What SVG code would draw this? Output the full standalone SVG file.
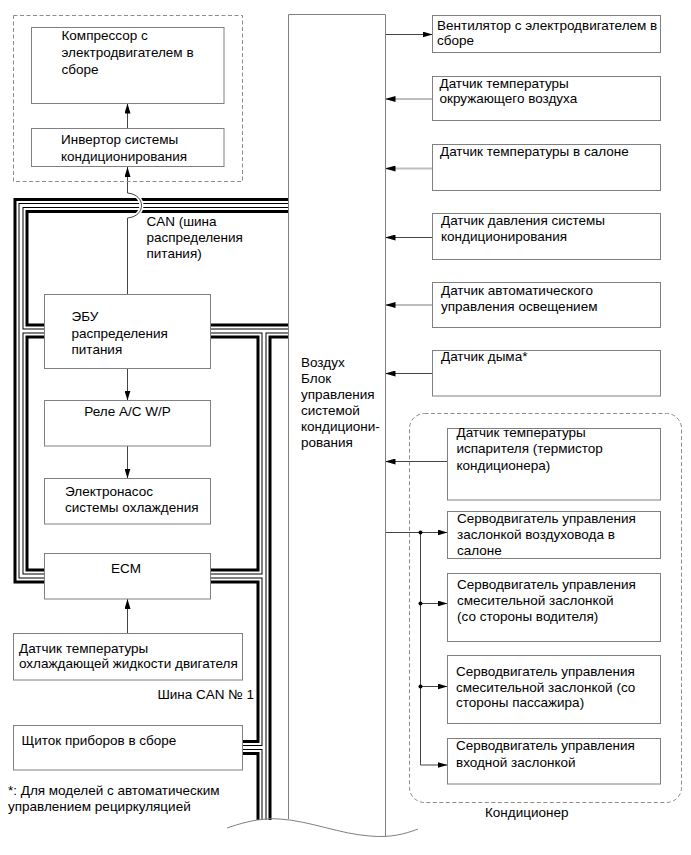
<svg xmlns="http://www.w3.org/2000/svg" xmlns:xlink="http://www.w3.org/1999/xlink" width="691" height="855" viewBox="0 0 691 855">
<style>
.box{fill:#fff;stroke:#808080;stroke-width:1}
.t{font-family:"Liberation Sans",Arial,sans-serif;font-size:13.5px;fill:#000}
.ln{fill:none;stroke:#444;stroke-width:1}
.lg{fill:none;stroke:#bdbdbd;stroke-width:2}
.dash{fill:none;stroke:#8c8c8c;stroke-width:1;stroke-dasharray:4 2.5}
.dot{fill:#000}
</style>
<defs>
<marker id="ah" viewBox="0 0 10 6" refX="10" refY="3" markerWidth="10" markerHeight="6" orient="auto" markerUnits="userSpaceOnUse">
<path d="M0,0 L10,3 L0,6 Z" fill="#000"/>
</marker>
<path id="bus" d="M288.5,205.5 H21 V576 H50 M21,331 H50 M205,331 H288.5 M264,331 V820 M205,576 H264 M238,747.5 H264"/>
</defs>
<rect width="691" height="855" fill="#fff"/>

<g id="connectors">
<g id="can-bus" fill="none" stroke-linejoin="miter" stroke-linecap="butt">
<use xlink:href="#bus" stroke="#000" stroke-width="15"/>
<use xlink:href="#bus" stroke="#fff" stroke-width="9"/>
<use xlink:href="#bus" stroke="#000" stroke-width="5"/>
<use xlink:href="#bus" stroke="#fff" stroke-width="3"/>
</g>
<path d="M127.5,218 C137.5,217 141.5,211 141.5,205.5 C141.5,200 137.5,194 127.5,193" fill="none" stroke="#fff" stroke-width="4"/>
<path class="ln" d="M127.5,294.5 V218 C137.5,217 141.5,211 141.5,205.5 C141.5,200 137.5,194 127.5,193 V167" marker-end="url(#ah)"/>
<line class="ln" x1="127.5" y1="128.5" x2="127.5" y2="103.5" marker-end="url(#ah)"/>
<line class="ln" x1="127.5" y1="368.5" x2="127.5" y2="400.5" marker-end="url(#ah)"/>
<line class="ln" x1="127.5" y1="446" x2="127.5" y2="478.5" marker-end="url(#ah)"/>
<line class="ln" x1="127.5" y1="633.5" x2="127.5" y2="599" marker-end="url(#ah)"/>
<line class="ln" x1="385.5" y1="34.5" x2="432.5" y2="34.5" marker-end="url(#ah)"/>
<line class="lg" x1="432.5" y1="99" x2="385.5" y2="99" marker-end="url(#ah)"/>
<line class="lg" x1="432.5" y1="168.5" x2="385.5" y2="168.5" marker-end="url(#ah)"/>
<line class="ln" x1="432.5" y1="237.5" x2="385.5" y2="237.5" marker-end="url(#ah)"/>
<line class="lg" x1="432.5" y1="305" x2="385.5" y2="305" marker-end="url(#ah)"/>
<line class="ln" x1="432.5" y1="373.5" x2="385.5" y2="373.5" marker-end="url(#ah)"/>
<line class="ln" x1="447.5" y1="461.5" x2="385.5" y2="461.5" marker-end="url(#ah)"/>
<line class="ln" x1="385.5" y1="532.5" x2="447.5" y2="532.5" marker-end="url(#ah)"/>
<path class="ln" d="M420.5,532.5 V765 H447.5" marker-end="url(#ah)"/>
<line class="ln" x1="420.5" y1="603.5" x2="447.5" y2="603.5" marker-end="url(#ah)"/>
<line class="ln" x1="420.5" y1="686.5" x2="447.5" y2="686.5" marker-end="url(#ah)"/>
<circle class="dot" cx="420.5" cy="532.5" r="2"/>
<circle class="dot" cx="420.5" cy="603.5" r="2"/>
<circle class="dot" cx="420.5" cy="686.5" r="2"/>
</g>

<g id="group-compressor">
<rect class="dash" x="13.5" y="15.5" width="229" height="166"/>
</g>
<g id="group-aircon">
<rect class="dash" x="409.5" y="413.5" width="272" height="389" rx="15" ry="15"/>
<text class="t" x="485" y="817">Кондиционер</text>
</g>

<g id="main-ecu">
<path d="M288.5,819 V14.5 H385.5 V837" fill="none" stroke="#808080" stroke-width="1"/>
<path d="M227,828 C250,820 265,818 280,819 C310,821 340,834 370,836 C390,838 405,834 418,829" fill="none" stroke="#808080" stroke-width="1"/>
<text class="t" x="301" y="366.5"><tspan x="301">Воздух</tspan><tspan x="301" dy="16">Блок</tspan><tspan x="301" dy="16">управления</tspan><tspan x="301" dy="16">системой</tspan><tspan x="301" dy="16">кондициони-</tspan><tspan x="301" dy="16">рования</tspan></text>
</g>

<g id="compressor">
<rect class="box" x="31.5" y="27.5" width="192.5" height="76"/>
<text class="t" y="40"><tspan x="61.5">Компрессор с</tspan><tspan x="61.5" dy="17">электродвигателем в</tspan><tspan x="61.5" dy="17">сборе</tspan></text>
</g>
<g id="inverter">
<rect class="box" x="31.5" y="128.5" width="192.5" height="38"/>
<text class="t" y="144"><tspan x="61">Инвертор системы</tspan><tspan x="61" dy="17">кондиционирования</tspan></text>
</g>
<g id="can-label">
<text class="t" y="226"><tspan x="146.5">CAN (шина</tspan><tspan x="146.5" dy="16">распределения</tspan><tspan x="146.5" dy="16">питания)</tspan></text>
</g>
<g id="power-ecu">
<rect class="box" x="44.5" y="294.5" width="166" height="74"/>
<text class="t" y="321"><tspan x="71.5">ЭБУ</tspan><tspan x="71.5" dy="17">распределения</tspan><tspan x="71.5" dy="16">питания</tspan></text>
</g>
<g id="relay">
<rect class="box" x="44.5" y="400.5" width="166" height="45.5"/>
<text class="t" x="127.5" y="416" text-anchor="middle">Реле A/C W/P</text>
</g>
<g id="pump">
<rect class="box" x="44.5" y="478.5" width="166" height="45.5"/>
<text class="t" y="496"><tspan x="65">Электронасос</tspan><tspan x="65" dy="15.5">системы охлаждения</tspan></text>
</g>
<g id="ecm">
<rect class="box" x="44.5" y="553.5" width="166" height="45.5"/>
<text class="t" x="126" y="573" text-anchor="middle">ECM</text>
</g>
<g id="coolant-sensor">
<rect class="box" x="13.5" y="633.5" width="229" height="46.5"/>
<text class="t" y="653"><tspan x="19">Датчик температуры</tspan><tspan x="19" dy="15">охлаждающей жидкости двигателя</tspan></text>
</g>
<g id="can1-label">
<text class="t" x="254" y="699" text-anchor="end">Шина CAN № 1</text>
</g>
<g id="cluster">
<rect class="box" x="13.5" y="725.5" width="229" height="44.5"/>
<text class="t" x="21.5" y="745">Щиток приборов в сборе</text>
</g>
<g id="footnote">
<text class="t" y="795"><tspan x="8">*: Для моделей с автоматическим</tspan><tspan x="8" dy="16">управлением рециркуляцией</tspan></text>
</g>

<g id="fan">
<rect class="box" x="432.5" y="15.5" width="228" height="37"/>
<text class="t" y="30"><tspan x="437">Вентилятор с электродвигателем в</tspan><tspan x="437" dy="15">сборе</tspan></text>
</g>
<g id="ambient-sensor">
<rect class="box" x="432.5" y="76.5" width="228" height="44"/>
<text class="t" y="87.5"><tspan x="439.5">Датчик температуры</tspan><tspan x="439.5" dy="15.5">окружающего воздуха</tspan></text>
</g>
<g id="cabin-sensor">
<rect class="box" x="432.5" y="144.5" width="228" height="46"/>
<text class="t" x="440" y="156">Датчик температуры в салоне</text>
</g>
<g id="pressure-sensor">
<rect class="box" x="432.5" y="213.5" width="228" height="46"/>
<text class="t" y="225"><tspan x="441">Датчик давления системы</tspan><tspan x="441" dy="16">кондиционирования</tspan></text>
</g>
<g id="light-sensor">
<rect class="box" x="432.5" y="282.5" width="228" height="45"/>
<text class="t" y="295"><tspan x="441">Датчик автоматического</tspan><tspan x="441" dy="15.5">управления освещением</tspan></text>
</g>
<g id="smoke-sensor">
<rect class="box" x="432.5" y="350.5" width="228" height="45.5"/>
<text class="t" x="441" y="361">Датчик дыма*</text>
</g>
<g id="evap-sensor">
<rect class="box" x="447.5" y="428.5" width="213" height="71.5"/>
<text class="t" y="436.5"><tspan x="456.5">Датчик температуры</tspan><tspan x="456.5" dy="16.5">испарителя (термистор</tspan><tspan x="456.5" dy="16.5">кондиционера)</tspan></text>
</g>
<g id="servo-duct">
<rect class="box" x="447.5" y="511.5" width="213" height="47"/>
<text class="t" y="522.5"><tspan x="457">Серводвигатель управления</tspan><tspan x="457" dy="16.5">заслонкой воздуховода в</tspan><tspan x="457" dy="15.5">салоне</tspan></text>
</g>
<g id="servo-mix-driver">
<rect class="box" x="447.5" y="573.5" width="213" height="68"/>
<text class="t" y="589"><tspan x="457">Серводвигатель управления</tspan><tspan x="457" dy="16">смесительной заслонкой</tspan><tspan x="457" dy="16">(со стороны водителя)</tspan></text>
</g>
<g id="servo-mix-passenger">
<rect class="box" x="447.5" y="655.5" width="213" height="68"/>
<text class="t" y="676"><tspan x="456">Серводвигатель управления</tspan><tspan x="456" dy="15.5">смесительной заслонкой (со</tspan><tspan x="456" dy="15.5">стороны пассажира)</tspan></text>
</g>
<g id="servo-intake">
<rect class="box" x="447.5" y="738.5" width="213" height="45.5"/>
<text class="t" y="750"><tspan x="456">Серводвигатель управления</tspan><tspan x="456" dy="17">входной заслонкой</tspan></text>
</g>
</svg>
